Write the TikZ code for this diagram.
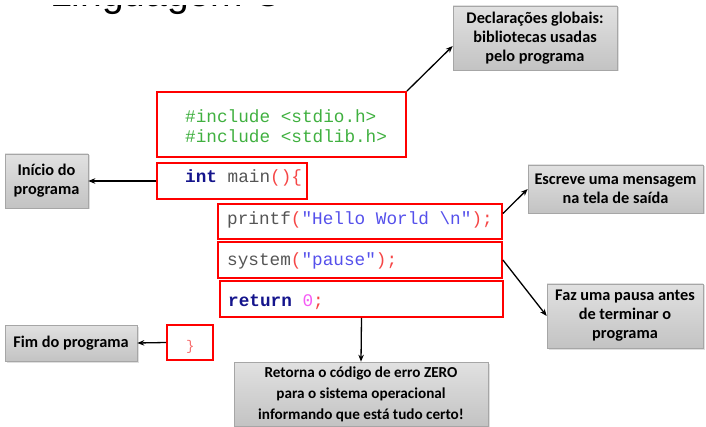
\documentclass[tikz,border=0pt]{standalone}
\usepackage{fontspec}
\setmainfont{Carlito}
\setmonofont{Liberation Mono}
\newfontfamily\titlefont{Liberation Sans}
\usetikzlibrary{arrows.meta,shadows}
\definecolor{codegreen}{RGB}{64,176,64}
\definecolor{kwblue}{RGB}{20,20,140}
\definecolor{idgray}{RGB}{85,85,85}
\definecolor{strblue}{RGB}{85,80,235}
\definecolor{punred}{RGB}{245,70,70}
\definecolor{nummag}{RGB}{245,90,245}
\definecolor{boxtop}{RGB}{225,225,225}
\definecolor{boxbot}{RGB}{195,195,195}
\begin{document}
\begin{tikzpicture}[x=1pt,y=-1pt,
  redbox/.style={draw=red, line width=1.8pt, inner sep=0pt},
  graybox/.style={draw=gray!70, line width=0.6pt, top color=boxtop, bottom color=boxbot,
    drop shadow={shadow xshift=1.5pt, shadow yshift=-1.5pt, opacity=0.25},
    inner sep=0pt, align=center, font=\bfseries\fontsize{16.3}{19}\selectfont},
  code/.style={inner sep=0pt, anchor=base west, font=\ttfamily\fontsize{17.7}{20}\selectfont},
  arr/.style={line width=1.3pt, -{Stealth[length=7pt,width=5.5pt]}}
]
\useasboundingbox (0,0) rectangle (706,427);
\clip (0,0) rectangle (706,427);

% title (only its lower edge shows)
\begin{scope}
\clip (0,5.5) rectangle (706,30);
\node[inner sep=0pt, anchor=base west, font=\titlefont\fontsize{39}{39}\selectfont] (title) at (50,6.3) {Linguagem C};
\end{scope}

% red code boxes
\node[redbox, minimum width=249pt, minimum height=65pt] (inc) at (281.5,124.5) {};
\node[redbox, minimum width=150pt, minimum height=36pt] (main) at (232,181) {};
\node[redbox, minimum width=284pt, minimum height=35pt] (printf) at (360,221.5) {};
\node[redbox, minimum width=284pt, minimum height=36pt] (system) at (360,260) {};
\node[redbox, minimum width=283pt, minimum height=36pt] (ret) at (361.5,299) {};
\node[redbox, minimum width=46pt, minimum height=35pt] (close) at (190,342.5) {};

% code text
\node[code] (c1) at (185,123) {\textcolor{codegreen}{\#include <stdio.h>}};
\node[code] (c2) at (185,143) {\textcolor{codegreen}{\#include <stdlib.h>}};
\node[code] (c3) at (185,183) {\textcolor{kwblue}{\bfseries int} \textcolor{idgray}{main}\textcolor{punred}{()\{}};
\node[code] (c4) at (227,225) {\textcolor{idgray}{printf}\textcolor{punred}{(}\textcolor{strblue}{"Hello World \textbackslash n"}\textcolor{punred}{);}};
\node[code] (c5) at (227,266) {\textcolor{idgray}{system}\textcolor{punred}{(}\textcolor{strblue}{"pause"}\textcolor{punred}{);}};
\node[code] (c6) at (228,307) {\textcolor{kwblue}{\bfseries return} \textcolor{nummag}{0}\textcolor{punred}{;}};
\node[code, font=\ttfamily\fontsize{14}{16}\selectfont] (c7) at (186,350) {\textcolor{punred!80}{\}}};

% gray comment boxes
\node[graybox, minimum width=164pt, minimum height=64pt] (decl) at (535,38) {Declarações globais:\\bibliotecas usadas\\pelo programa};
\node[graybox, minimum width=83pt, minimum height=54pt] (inicio) at (46.5,181) {Início do\\programa};
\node[graybox, minimum width=175pt, minimum height=48pt] (escreve) at (615.5,189) {Escreve uma mensagem\\na tela de saída};
\node[graybox, minimum width=156pt, minimum height=64pt] (faz) at (625,316) {Faz uma pausa antes\\de terminar o\\programa};
\node[graybox, minimum width=132pt, minimum height=36pt] (fim) at (71,343) {Fim do programa};
\node[graybox, minimum width=254pt, minimum height=64pt, font=\bfseries\fontsize{15.2}{21}\selectfont] (retorna) at (361,394) {Retorna o código de erro ZERO\\para o sistema operacional\\informando que está tudo certo!};

% connectors
\draw[arr] (inc.north east) -- ([yshift=-8pt]decl.west);
\draw[arr] (main.west) -- (inicio.east);
\draw[arr] ([yshift=8pt]printf.east) -- (escreve.west);
\draw[arr] (system.east) -- (faz.west);
\draw[arr] (close.west) -- (fim.east);
\draw[arr] (ret.south) -- (retorna.north);
\end{tikzpicture}
\end{document}
